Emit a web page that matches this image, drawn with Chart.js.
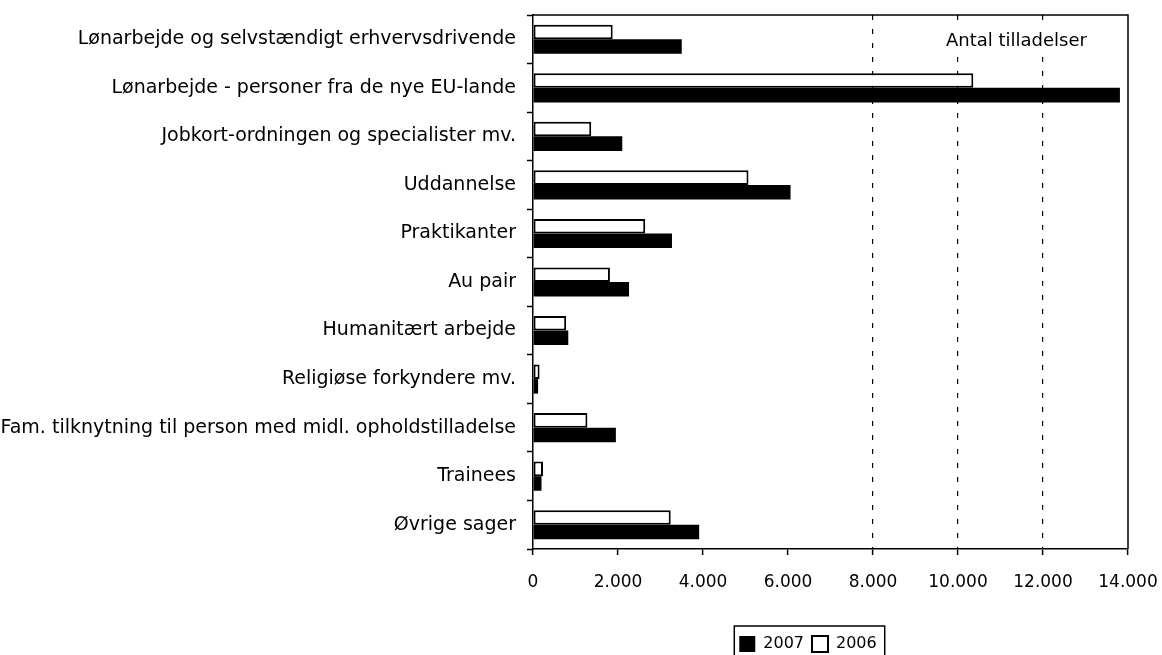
<!DOCTYPE html>
<html>
<head>
<meta charset="utf-8">
<script src="https://cdn.jsdelivr.net/npm/chart.js@4"></script>
<style>
  html, body { margin: 0; padding: 0; background: #fff; }
  #wrap { width: 1162px; height: 655px; }
</style>
</head>
<body>
<div id="wrap"><canvas id="c" width="1162" height="655"></canvas></div>
<script>
const categories = [
  "Lønarbejde og selvstændigt erhvervsdrivende",
  "Lønarbejde - personer fra de nye EU-lande",
  "Jobkort-ordningen og specialister mv.",
  "Uddannelse",
  "Praktikanter",
  "Au pair",
  "Humanitært arbejde",
  "Religiøse forkyndere mv.",
  "Fam. tilknytning til person med midl. opholdstilladelse",
  "Trainees",
  "Øvrige sager"
];
const values2006 = [1875, 10360, 1370, 5070, 2640, 1810, 780, 155, 1280, 235, 3240];
const values2007 = [3500, 13810, 2100, 6060, 3270, 2260, 830, 120, 1950, 200, 3910];
const xTicks = [0, 2000, 4000, 6000, 8000, 10000, 12000, 14000];
const dashedGridValues = [8000, 10000, 12000];
const annotationText = "Antal tilladelser";

function fmt(v) {
  return String(v).replace(/\B(?=(\d{3})+(?!\d))/g, '.');
}

const LEGEND_SHIFT = 244;

const framePlugin = {
  id: 'frame',
  afterLayout(chart) {
    const lg = chart.legend;
    if (lg) {
      lg.left += LEGEND_SHIFT;
      lg.right += LEGEND_SHIFT;
    }
  },
  afterDatasetsDraw(chart) {
    const ctx = chart.ctx;
    const a = chart.chartArea;
    ctx.save();
    ctx.font = '18px "DejaVu Sans"';
    const w = ctx.measureText(annotationText).width;
    const tx = a.left + 413, ty = a.top + 26;
    ctx.fillStyle = '#fff';
    ctx.fillRect(tx - 4, ty - 12, w + 8, 24);
    ctx.fillStyle = '#000';
    ctx.textAlign = 'left';
    ctx.textBaseline = 'middle';
    ctx.fillText(annotationText, tx, ty);
    ctx.restore();
  },
  afterDraw(chart) {
    const ctx = chart.ctx;
    const a = chart.chartArea;
    ctx.save();
    ctx.strokeStyle = '#000';
    ctx.lineWidth = 1.5;
    ctx.beginPath();
    ctx.moveTo(a.left, a.top);
    ctx.lineTo(a.right, a.top);
    ctx.lineTo(a.right, a.bottom);
    ctx.stroke();
    // legend border
    const lg = chart.legend;
    if (lg && lg.legendHitBoxes && lg.legendHitBoxes.length) {
      const hb = lg.legendHitBoxes;
      let l = Infinity, r = -Infinity;
      hb.forEach(h => { l = Math.min(l, h.left); r = Math.max(r, h.left + h.width); });
      ctx.lineWidth = 1.5;
      ctx.beginPath();
      ctx.moveTo(l - 5, 665);
      ctx.lineTo(l - 5, 626);
      ctx.lineTo(r + 8, 626);
      ctx.lineTo(r + 8, 665);
      ctx.stroke();
    }
    ctx.restore();
  }
};

function zeroPad(scale) {
  scale.paddingTop = 0;
  scale.paddingBottom = 0;
  scale.paddingLeft = 0;
  scale.paddingRight = 0;
}

new Chart(document.getElementById('c'), {
  type: 'bar',
  data: {
    labels: categories,
    datasets: [
      {
        label: '2006',
        data: values2006,
        backgroundColor: '#ffffff',
        borderColor: '#000000',
        borderWidth: 2,
        borderSkipped: false,
        categoryPercentage: 0.6,
        barPercentage: 1.0
      },
      {
        label: '2007',
        data: values2007,
        backgroundColor: '#000000',
        borderColor: '#000000',
        borderWidth: 0,
        categoryPercentage: 0.6,
        barPercentage: 1.0
      }
    ]
  },
  options: {
    indexAxis: 'y',
    responsive: false,
    animation: false,
    layout: { padding: { top: 15, right: 34, left: 0, bottom: -7 } },
    plugins: {
      legend: {
        position: 'bottom',
        reverse: true,
        labels: {
          color: '#000',
          font: { family: 'DejaVu Sans', size: 16 },
          boxWidth: 16,
          boxHeight: 16,
          padding: 8
        }
      },
      tooltip: { enabled: false }
    },
    scales: {
      x: {
        min: 0,
        max: 14000,
        afterBuildTicks(scale) { scale.ticks = xTicks.map(v => ({ value: v })); },
        afterFit(scale) { scale.height = 79; zeroPad(scale); },
        ticks: {
          color: '#000',
          font: { family: 'DejaVu Sans', size: 17 },
          padding: 17,
          maxRotation: 0,
          callback: (v) => fmt(v)
        },
        grid: {
          color: (ctx) => (ctx.tick && dashedGridValues.includes(ctx.tick.value)) ? '#000' : 'rgba(0,0,0,0)',
          lineWidth: 1.2,
          tickColor: '#000',
          tickLength: 6,
          tickWidth: 1.5,
          tickBorderDash: []
        },
        border: { display: true, color: '#000', width: 1.5, dash: [5, 9] }
      },
      y: {
        afterFit(scale) { scale.width = 533; zeroPad(scale); },
        ticks: {
          color: '#000',
          font: { family: 'DejaVu Sans', size: 19 },
          padding: 11
        },
        grid: {
          drawOnChartArea: false,
          color: 'rgba(0,0,0,0)',
          tickColor: '#000',
          tickLength: 6,
          tickWidth: 1.5,
          offset: true
        },
        border: { display: true, color: '#000', width: 1.5 }
      }
    }
  },
  plugins: [framePlugin]
});
</script>
</body>
</html>
